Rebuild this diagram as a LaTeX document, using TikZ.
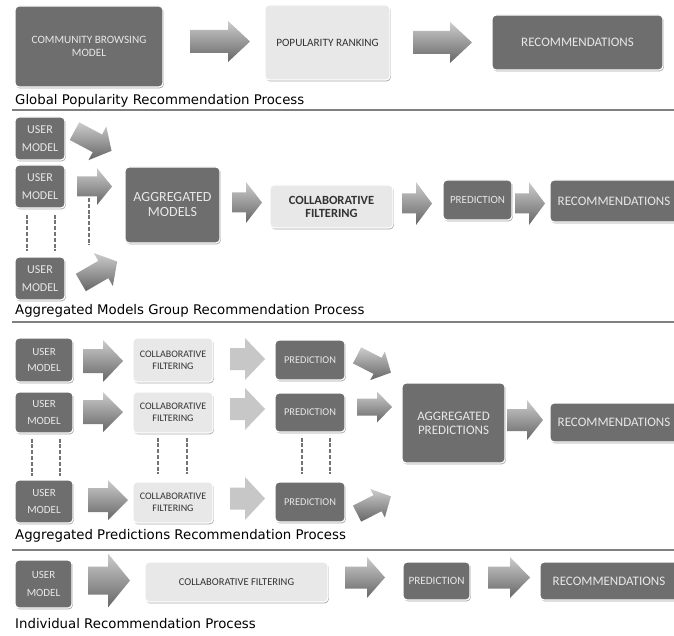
\documentclass[tikz,border=0pt]{standalone}
\usepackage{fontspec}
\setmainfont{Carlito}
\newfontfamily\lblfont{DejaVu Sans}
\usetikzlibrary{shadows}
\newcommand\fsz[2]{\fontsize{#1}{#2}\selectfont}
% block arrow: cx, cy, length, body half, head half, head length, rotation, style
\newcommand\barrow[8]{%
  \begin{scope}[shift={(#1,#2)},rotate=#7]
    \path[#8] ({-#3/2},{-#4}) -- ({#3/2-#6},{-#4}) -- ({#3/2-#6},{-#5}) -- ({#3/2},0)
      -- ({#3/2-#6},{#5}) -- ({#3/2-#6},{#4}) -- ({-#3/2},{#4}) -- cycle;
  \end{scope}}
\tikzset{
  dbox/.style={draw=white, line width=1.2pt, fill=black!57, rounded corners=4pt,
    drop shadow={shadow xshift=0.8pt, shadow yshift=-1.3pt, opacity=0.35, fill=black},
    text=black!9, align=center, inner sep=0pt},
  lbox/.style={dbox, fill=black!9, text=black!80},
  arrowA/.style={top color=black!20, bottom color=black!60},
  arrowL/.style={fill=black!22},
  dsh/.style={draw=black!55, line width=2.2pt, dash pattern=on 4pt off 1.8pt},
  sepline/.style={draw=black!50, line width=1.2pt},
  lbl/.style={anchor=west, inner sep=0pt, font=\lblfont\fsz{13.3}{15}, text=black}
}
\begin{document}
\begin{tikzpicture}[x=1pt,y=-1pt]
\clip (0,0) rectangle (674,636);
\fill[white] (0,0) rectangle (674,636);

% ---------- Section 1
\node[dbox, minimum width=148pt, minimum height=81pt, font=\fsz{11.2}{12.5}] (cbm) at (89,46.5) {COMMUNITY BROWSING\\MODEL};
\node[lbox, minimum width=125pt, minimum height=75pt, font=\fsz{11.2}{12.5}] (pop) at (327.5,42.5) {POPULARITY RANKING};
\node[dbox, minimum width=171pt, minimum height=55pt, font=\fsz{13}{15}] (rec1) at (577.5,42.5) {RECOMMENDATIONS};
\barrow{220}{41.5}{60}{11.5}{20.5}{22}{0}{arrowA}
\barrow{442.5}{42.5}{59}{11.5}{20.5}{22}{0}{arrowA}
\node[lbl] (l1) at (15,101) {Global Popularity Recommendation Process};
\coordinate (s1a) at (12,110); \coordinate (s1b) at (674,110);
\draw[sepline] (s1a) -- (s1b);

% ---------- Section 2
\node[dbox, minimum width=50pt, minimum height=43pt, font=\fsz{12}{18}] (um21) at (40,138.5) {USER\\MODEL};
\node[dbox, minimum width=50pt, minimum height=43pt, font=\fsz{12}{18}] (um22) at (40,186.5) {USER\\MODEL};
\node[dbox, minimum width=50pt, minimum height=43pt, font=\fsz{12}{18}] (um23) at (40,278.5) {USER\\MODEL};
\node[dbox, minimum width=95pt, minimum height=76pt, font=\fsz{14}{15}] (agm) at (172.5,205) {AGGREGATED\\MODELS};
\node[lbox, minimum width=123pt, minimum height=43pt, font=\bfseries\fsz{12.5}{13}] (cf2) at (331.5,206.5) {COLLABORATIVE\\FILTERING};
\node[dbox, minimum width=69pt, minimum height=40pt, font=\fsz{11}{13}] (pr2) at (477.5,200) {PREDICTION};
\node[dbox, minimum width=128pt, minimum height=42pt, font=\fsz{13}{15}] (rc2) at (614,201) {RECOMMENDATIONS};
\barrow{93}{141}{42}{10}{19}{16}{-28}{arrowA}
\barrow{94.5}{186.5}{35}{10}{18.5}{15}{0}{arrowA}
\barrow{99}{272}{42}{10}{19}{16}{30}{arrowA}
\barrow{247}{202.5}{30}{10}{20.5}{16}{0}{arrowA}
\barrow{417}{203.5}{30}{10}{21.5}{16}{0}{arrowA}
\barrow{530}{203.5}{30}{10}{21.5}{16}{0}{arrowA}
\draw[dsh] ([yshift=-6pt]um22.south -| 27,0) -- ([yshift=5pt]um23.north -| 27,0);
\draw[dsh] ([yshift=-6pt]um22.south -| 55,0) -- ([yshift=5pt]um23.north -| 55,0);
\coordinate (d2a) at (89,198); \coordinate (d2b) at (89,245);
\draw[dsh] (d2a) -- (d2b);
\node[lbl] (l2) at (15,311) {Aggregated Models Group Recommendation Process};
\coordinate (s2a) at (12,322); \coordinate (s2b) at (674,322);
\draw[sepline] (s2a) -- (s2b);

% ---------- Section 3
\node[dbox, minimum width=58pt, minimum height=44pt, font=\fsz{11}{16.5}] (um31) at (44,360) {USER\\MODEL};
\node[dbox, minimum width=58pt, minimum height=41pt, font=\fsz{11}{16.5}] (um32) at (44,412.5) {USER\\MODEL};
\node[dbox, minimum width=58pt, minimum height=43pt, font=\fsz{11}{16.5}] (um33) at (44,501.5) {USER\\MODEL};
\node[lbox, minimum width=80pt, minimum height=44pt, font=\fsz{10}{12}] (cf31) at (173,360) {COLLABORATIVE\\FILTERING};
\node[lbox, minimum width=80pt, minimum height=41pt, font=\fsz{10}{12}] (cf32) at (173,412.5) {COLLABORATIVE\\FILTERING};
\node[lbox, minimum width=80pt, minimum height=41pt, font=\fsz{10}{12}] (cf33) at (173,502.5) {COLLABORATIVE\\FILTERING};
\node[dbox, minimum width=70pt, minimum height=40pt, font=\fsz{10.4}{12}] (pr31) at (310,360) {PREDICTION};
\node[dbox, minimum width=70pt, minimum height=39pt, font=\fsz{10.4}{12}] (pr32) at (310,412.5) {PREDICTION};
\node[dbox, minimum width=70pt, minimum height=40pt, font=\fsz{10.4}{12}] (pr33) at (310,502) {PREDICTION};
\node[dbox, minimum width=103pt, minimum height=80pt, font=\fsz{13}{14}] (agp) at (453.5,423) {AGGREGATED\\PREDICTIONS};
\node[dbox, minimum width=128pt, minimum height=39pt, font=\fsz{13}{15}] (rc3) at (614,422.5) {RECOMMENDATIONS};
\barrow{103}{361}{40}{12}{21}{20}{0}{arrowA}
\barrow{103}{412}{40}{12}{20}{20}{0}{arrowA}
\barrow{108}{500}{40}{12}{20}{20}{0}{arrowA}
\barrow{247.5}{359}{35}{11}{21}{20}{0}{arrowL}
\barrow{247.5}{409}{35}{11}{21}{20}{0}{arrowL}
\barrow{247.5}{498.5}{35}{11}{21.5}{20}{0}{arrowL}
\barrow{374}{364}{38}{9}{16}{15}{-27}{arrowA}
\barrow{374.5}{407}{35}{8.5}{15.5}{15}{0}{arrowA}
\barrow{374}{505}{38}{9}{16}{15}{27}{arrowA}
\barrow{525}{420}{36}{11}{20}{16}{0}{arrowA}
\draw[dsh] ([yshift=-5pt]um32.south -| 32,0) -- ([yshift=3pt]um33.north -| 32,0);
\draw[dsh] ([yshift=-5pt]um32.south -| 60,0) -- ([yshift=3pt]um33.north -| 60,0);
\draw[dsh] ([yshift=-4pt]cf32.south -| 158,0) -- ([yshift=7pt]cf33.north -| 158,0);
\draw[dsh] ([yshift=-4pt]cf32.south -| 187,0) -- ([yshift=7pt]cf33.north -| 187,0);
\draw[dsh] ([yshift=-5pt]pr32.south -| 302,0) -- ([yshift=7pt]pr33.north -| 302,0);
\draw[dsh] ([yshift=-5pt]pr32.south -| 330,0) -- ([yshift=7pt]pr33.north -| 330,0);
\node[lbl] (l3) at (15,536) {Aggregated Predictions Recommendation Process};
\coordinate (s3a) at (12,550); \coordinate (s3b) at (674,550);
\draw[sepline] (s3a) -- (s3b);

% ---------- Section 4
\node[dbox, minimum width=57pt, minimum height=48pt, font=\fsz{11}{18}] (um4) at (43.5,584) {USER\\MODEL};
\node[lbox, minimum width=183pt, minimum height=40pt, font=\fsz{10.5}{12}] (cf4) at (236.5,582) {COLLABORATIVE FILTERING};
\node[dbox, minimum width=67pt, minimum height=38pt, font=\fsz{11.2}{13}] (pr4) at (436.5,581) {PREDICTION};
\node[dbox, minimum width=138pt, minimum height=38pt, font=\fsz{13}{15}] (rc4) at (609,581) {RECOMMENDATIONS};
\barrow{109}{580.5}{42}{14}{27}{22}{0}{arrowA}
\barrow{365}{577.5}{40}{11}{20.5}{18}{0}{arrowA}
\barrow{509}{577.5}{42}{11}{20.5}{20}{0}{arrowA}
\node[lbl] (l4) at (15,624) {Individual Recommendation Process};
\end{tikzpicture}
\end{document}
